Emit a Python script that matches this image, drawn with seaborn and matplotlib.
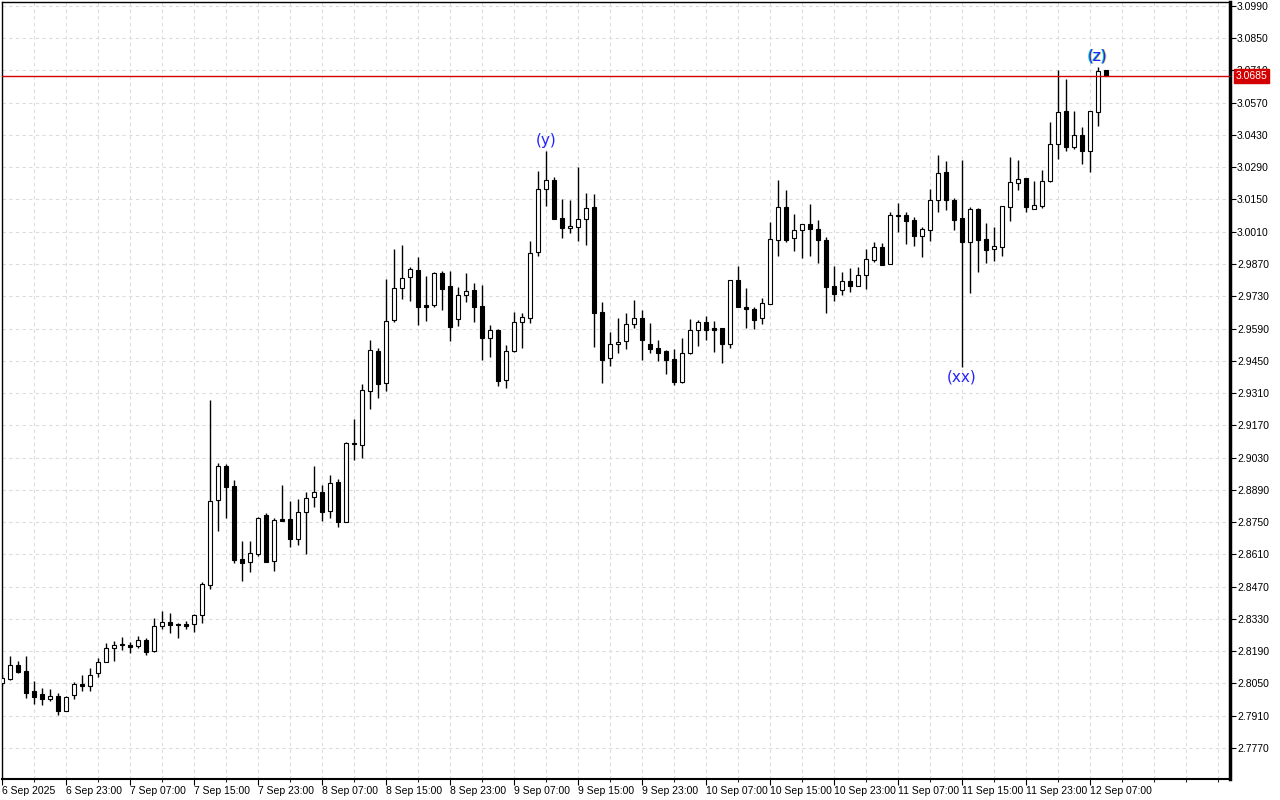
import matplotlib
matplotlib.use("Agg")
import matplotlib.pyplot as plt
import matplotlib.transforms as mtransforms
import numpy as np
import seaborn as sns

# hourly bars, 6 Sep 15:00 -> 12 Sep 09:00
opens = [
    2.8051, 2.8069, 2.8128, 2.8104, 2.8017, 2.8004, 2.7983, 2.7995, 2.7931, 2.8001,
    2.8046, 2.8040, 2.8094, 2.8141, 2.8202, 2.8222, 2.8218, 2.8211, 2.8237, 2.8189,
    2.8298, 2.8315, 2.8306, 2.8308, 2.8306, 2.8347, 2.8476, 2.8845, 2.8992, 2.8905,
    2.8589, 2.8576, 2.8613, 2.8780, 2.8580, 2.8762, 2.8762, 2.8678, 2.8793, 2.8858,
    2.8879, 2.8797, 2.8923, 2.8752, 2.9093, 2.9083, 2.9318, 2.9493, 2.9352, 2.9626,
    2.9765, 2.9812, 2.9843, 2.9691, 2.9693, 2.9830, 2.9773, 2.9630, 2.9734, 2.9756,
    2.9687, 2.9548, 2.9584, 2.9367, 2.9493, 2.9617, 2.9634, 2.9921, 3.0194, 3.0235,
    3.0069, 3.0025, 3.0030, 3.0064, 3.0116, 2.9661, 2.9461, 2.9522, 2.9535, 2.9608,
    2.9634, 2.9522, 2.9505, 2.9493, 2.9457, 2.9359, 2.9483, 2.9582, 2.9618, 2.9591,
    2.9591, 2.9522, 2.9800, 2.9684, 2.9674, 2.9634, 2.9698, 2.9973, 3.0116, 2.9981,
    3.0016, 3.0042, 3.0021, 2.9974, 2.9773, 2.9756, 2.9795, 2.9773, 2.9821, 2.9889,
    2.9943, 2.9869, 3.0082, 3.0082, 3.0060, 2.9990, 3.0019, 3.0149, 3.0268, 3.0148,
    3.0069, 2.9967, 3.0109, 2.9979, 2.9934, 2.9945, 3.0116, 3.0220, 3.0242, 3.0108,
    3.0123, 3.0232, 3.0390, 3.0534, 3.0377, 3.0429, 3.0359, 3.0529, 3.0711,
]
highs = [
    2.8086, 2.8169, 2.8147, 2.8169, 2.8060, 2.8029, 2.8026, 2.8007, 2.7995, 2.8057,
    2.8086, 2.8115, 2.8159, 2.8225, 2.8235, 2.8251, 2.8231, 2.8256, 2.8245, 2.8332,
    2.8364, 2.8354, 2.8313, 2.8319, 2.8351, 2.8490, 2.9280, 2.9005, 2.9002, 2.8933,
    2.8668, 2.8668, 2.8772, 2.8790, 2.8768, 2.8911, 2.8841, 2.8850, 2.8879, 2.8992,
    2.8911, 2.8954, 2.8936, 2.9099, 2.9196, 2.9349, 2.9540, 2.9504, 2.9805, 2.9935,
    2.9953, 2.9858, 2.9902, 2.9819, 2.9834, 2.9838, 2.9840, 2.9772, 2.9831, 2.9786,
    2.9779, 2.9605, 2.9588, 2.9519, 2.9662, 2.9659, 2.9970, 3.0274, 3.0362, 3.0246,
    3.0152, 3.0148, 3.0291, 3.0180, 3.0174, 2.9705, 2.9575, 2.9634, 2.9656, 2.9713,
    2.9669, 2.9614, 2.9540, 2.9497, 2.9501, 2.9548, 2.9630, 2.9627, 2.9646, 2.9624,
    2.9591, 2.9800, 2.9861, 2.9766, 2.9684, 2.9724, 3.0051, 3.0235, 3.0190, 3.0087,
    3.0042, 3.0131, 3.0060, 2.9989, 2.9860, 2.9834, 2.9851, 2.9856, 2.9934, 2.9964,
    2.9960, 3.0095, 3.0134, 3.0096, 3.0075, 3.0029, 3.0194, 3.0343, 3.0316, 3.0155,
    3.0322, 3.0119, 3.0112, 3.0048, 3.0029, 3.0123, 3.0333, 3.0322, 3.0242, 3.0230,
    3.0278, 3.0486, 3.0712, 3.0673, 3.0534, 3.0463, 3.0533, 3.0726, 3.0711,
]
lows = [
    2.8039, 2.8065, 2.8096, 2.7988, 2.7960, 2.7956, 2.7975, 2.7913, 2.7930, 2.7982,
    2.8017, 2.8018, 2.8079, 2.8141, 2.8148, 2.8195, 2.8180, 2.8205, 2.8173, 2.8187,
    2.8285, 2.8270, 2.8246, 2.8285, 2.8274, 2.8313, 2.8458, 2.8713, 2.8769, 2.8571,
    2.8496, 2.8532, 2.8604, 2.8578, 2.8539, 2.8756, 2.8643, 2.8652, 2.8613, 2.8817,
    2.8756, 2.8769, 2.8730, 2.8752, 2.9021, 2.9028, 2.9241, 2.9290, 2.9320, 2.9620,
    2.9718, 2.9711, 2.9605, 2.9624, 2.9685, 2.9671, 2.9536, 2.9601, 2.9707, 2.9620,
    2.9453, 2.9468, 2.9342, 2.9331, 2.9488, 2.9507, 2.9615, 2.9906, 3.0123, 3.0064,
    2.9984, 3.0006, 2.9971, 2.9953, 2.9511, 2.9355, 2.9429, 2.9485, 2.9501, 2.9594,
    2.9455, 2.9485, 2.9449, 2.9391, 2.9345, 2.9352, 2.9480, 2.9516, 2.9540, 2.9490,
    2.9442, 2.9507, 2.9682, 2.9594, 2.9589, 2.9611, 2.9695, 2.9906, 2.9964, 2.9928,
    2.9897, 2.9906, 2.9876, 2.9659, 2.9711, 2.9737, 2.9750, 2.9773, 2.9763, 2.9880,
    2.9865, 2.9869, 3.0008, 2.9958, 2.9948, 2.9902, 2.9971, 3.0097, 3.0106, 3.0018,
    2.9424, 2.9746, 2.9837, 2.9875, 2.9884, 2.9906, 3.0057, 3.0191, 3.0097, 3.0108,
    3.0115, 3.0227, 3.0325, 3.0361, 3.0369, 3.0305, 3.0271, 3.0470, 3.0685,
]
closes = [
    2.8072, 2.8128, 2.8101, 2.8009, 2.7992, 2.7983, 2.7994, 2.7931, 2.7990, 2.8046,
    2.8040, 2.8085, 2.8141, 2.8202, 2.8215, 2.8215, 2.8207, 2.8237, 2.8187, 2.8298,
    2.8315, 2.8302, 2.8302, 2.8300, 2.8347, 2.8481, 2.8840, 2.8992, 2.8904, 2.8587,
    2.8574, 2.8615, 2.8768, 2.8578, 2.8758, 2.8756, 2.8678, 2.8793, 2.8853, 2.8879,
    2.8795, 2.8919, 2.8752, 2.9092, 2.9088, 2.9322, 2.9496, 2.9351, 2.9621, 2.9765,
    2.9808, 2.9847, 2.9685, 2.9685, 2.9830, 2.9763, 2.9598, 2.9734, 2.9752, 2.9685,
    2.9550, 2.9584, 2.9364, 2.9493, 2.9617, 2.9639, 2.9917, 3.0194, 3.0233, 3.0067,
    3.0025, 3.0034, 3.0064, 3.0112, 2.9659, 2.9455, 2.9522, 2.9532, 2.9608, 2.9634,
    2.9542, 2.9503, 2.9485, 2.9455, 2.9359, 2.9483, 2.9582, 2.9618, 2.9585, 2.9585,
    2.9522, 2.9800, 2.9682, 2.9674, 2.9628, 2.9700, 2.9977, 3.0116, 2.9976, 3.0016,
    3.0042, 3.0023, 2.9973, 2.9772, 2.9741, 2.9795, 2.9773, 2.9821, 2.9891, 2.9943,
    2.9866, 3.0082, 3.0079, 3.0058, 2.9993, 3.0021, 3.0149, 3.0264, 3.0149, 3.0062,
    2.9967, 3.0108, 2.9976, 2.9932, 2.9947, 3.0121, 3.0225, 3.0238, 3.0116, 3.0125,
    3.0232, 3.0390, 3.0529, 3.0379, 3.0429, 3.0359, 3.0533, 3.0709, 3.0685,
]

time_labels = [
    "6 Sep 2025", "6 Sep 23:00", "7 Sep 07:00", "7 Sep 15:00", "7 Sep 23:00",
    "8 Sep 07:00", "8 Sep 15:00", "8 Sep 23:00", "9 Sep 07:00", "9 Sep 15:00",
    "9 Sep 23:00", "10 Sep 07:00", "10 Sep 15:00", "10 Sep 23:00", "11 Sep 07:00",
    "11 Sep 15:00", "11 Sep 23:00", "12 Sep 07:00",
]
price_ticks = [
    2.7770, 2.7910, 2.8050, 2.8190, 2.8330, 2.8470, 2.8610, 2.8750, 2.8890, 2.9030,
    2.9170, 2.9310, 2.9450, 2.9590, 2.9730, 2.9870, 3.0010, 3.0150, 3.0290, 3.0430,
    3.0570, 3.0710, 3.0850, 3.0990,
]
last_price = 3.0685

wave_labels = ["(y)", "(xx)", "(z)"]
wave_bars = [68, 120, 137]
wave_side = ["high", "low", "high"]

sns.set_style("white")
plt.rcParams["font.family"] = ["Liberation Sans", "DejaVu Sans"]

o = np.array(opens)
h = np.array(highs)
l = np.array(lows)
c = np.array(closes)
x = np.arange(len(o))
up = c >= o

fig = plt.figure(figsize=(12.8, 8), dpi=100)
ax = fig.add_axes([2 / 1280, 21 / 800, 1228 / 1280, 777 / 800])

# wicks then bodies
ax.vlines(x, l, h, color="black", lw=1.0, zorder=3)
ax.bar(x[up], c[up] - o[up], bottom=o[up], width=0.5, color="white",
       edgecolor="black", lw=0.8, zorder=4)
ax.bar(x[~up], o[~up] - c[~up], bottom=c[~up], width=0.5, color="black",
       edgecolor="black", lw=0.8, zorder=4)

# current price line
ax.axhline(last_price, color="#d40000", lw=1.0, zorder=5)

ax.set_xlim(0, 153.5)
ax.set_ylim(2.7635, 3.1007)

ax.set_xticks(x[::8], time_labels, ha="left")
ax.set_xticks(np.arange(0, 154, 4), minor=True)
ax.set_yticks(price_ticks, [f"{p:.4f}" for p in price_ticks])
ax.yaxis.tick_right()

ax.tick_params(axis="x", which="major", labelsize=7.5, length=4, width=0.8, pad=1,
               colors="black", direction="out", bottom=True)
ax.tick_params(axis="x", which="minor", length=2, width=0.8, bottom=True)
ax.tick_params(axis="y", which="major", labelsize=7.5, length=4, width=0.8, pad=1,
               colors="black", direction="out", right=True, left=False)

ax.grid(True, which="major", axis="both", color="#dcdcdc", ls=(0, (3, 3)), lw=0.8)
ax.grid(True, which="minor", axis="x", color="#dcdcdc", ls=(0, (3, 3)), lw=0.8)
ax.set_axisbelow(True)

for side, lw in [("left", 1.0), ("top", 1.0), ("right", 2.5), ("bottom", 1.5)]:
    ax.spines[side].set_visible(True)
    ax.spines[side].set_color("black")
    ax.spines[side].set_linewidth(lw)

# price tag on the right scale (covers the 3.0710 label as in the terminal)
trans = mtransforms.blended_transform_factory(ax.transAxes, ax.transData)
ax.annotate(f"{last_price:.4f}", xy=(1.0, last_price), xycoords=trans,
            xytext=(4, 0), textcoords="offset points", ha="left", va="center",
            fontsize=7.5, color="white", annotation_clip=False, zorder=10,
            bbox=dict(boxstyle="square,pad=0.18", fc="#d40000", ec="#d40000"))

# wave labels
for lab, b, side in zip(wave_labels, wave_bars, wave_side):
    if side == "high":
        y0, dy, va = h[b], 2, "bottom"
    else:
        y0, dy, va = l[b], -2, "top"
    if lab == "(z)":
        ax.annotate(lab, xy=(b, y0), xytext=(-0.8, dy), textcoords="offset points",
                    ha="center", va=va, fontsize=11, color="#00c8c8",
                    family="DejaVu Sans", zorder=6)
        ax.annotate(lab, xy=(b, y0), xytext=(0.6, dy + 0.5), textcoords="offset points",
                    ha="center", va=va, fontsize=11, color="#c8c800", alpha=0.6,
                    family="DejaVu Sans", zorder=6)
    ax.annotate(lab, xy=(b, y0), xytext=(0, dy), textcoords="offset points",
                ha="center", va=va, fontsize=11, color="#2222ff",
                family="DejaVu Sans", zorder=7)

fig.savefig("out.png", dpi=100, facecolor="white")
